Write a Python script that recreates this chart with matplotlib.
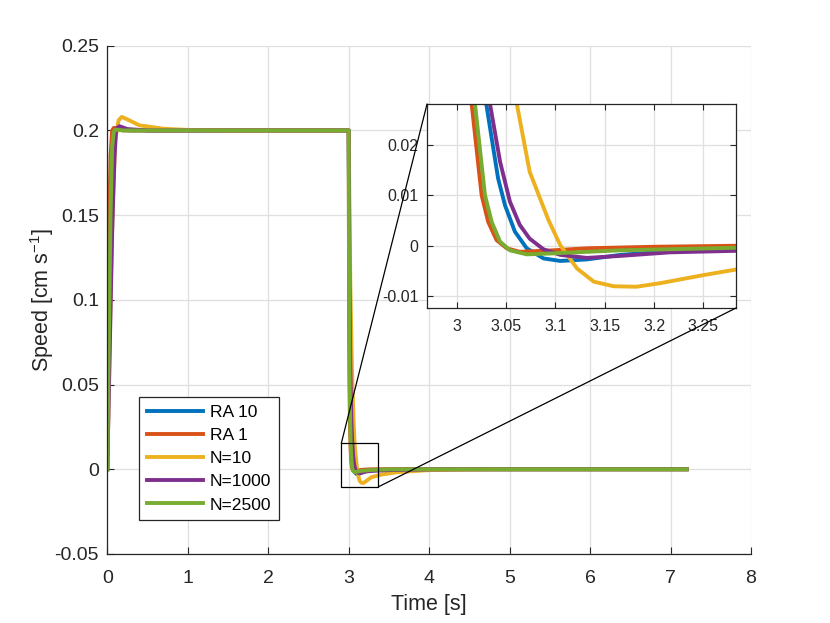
import numpy as np
import matplotlib
matplotlib.use("Agg")
import matplotlib.pyplot as plt
from matplotlib.patches import Rectangle, ConnectionPatch
from matplotlib.ticker import FuncFormatter

plt.rcParams['font.family'] = ['Liberation Sans', 'DejaVu Sans']
plt.rcParams['axes.unicode_minus'] = False
plt.rcParams['mathtext.fontset'] = 'custom'
plt.rcParams['mathtext.rm'] = 'Liberation Sans'
plt.rcParams['mathtext.it'] = 'Liberation Sans'
plt.rcParams['mathtext.default'] = 'regular'

labels = ['RA 10', 'RA 1', 'N=10', 'N=1000', 'N=2500']
colors = ['#0072BD', '#D95319', '#EDB120', '#7E2F8E', '#77AC30']

# speed traces [cm/s]
t_ra10 = [0, 0.02, 0.04, 0.06, 0.08, 0.1, 0.15, 0.3, 3.0, 3.01, 3.02, 3.03, 3.042, 3.049,
          3.059, 3.071, 3.088, 3.105, 3.132, 3.166, 3.216, 3.283, 3.4, 3.6, 4.0, 5.0, 7.2]
v_ra10 = [0, 0.1, 0.17, 0.195, 0.201, 0.2015, 0.2005, 0.2, 0.2, 0.095, 0.05, 0.028, 0.0133, 0.008,
          0.0028, -0.0005, -0.0025, -0.003, -0.0027, -0.0018, -0.0011, -0.0005, -0.0002, -0.0001, 0, 0, 0]

t_ra1 = [0, 0.02, 0.04, 0.06, 0.08, 0.12, 0.2, 3.0, 3.005, 3.01, 3.0152, 3.0253, 3.032, 3.0405,
         3.0507, 3.064, 3.098, 3.132, 3.2, 3.283, 4.0, 7.2]
v_ra1 = [0, 0.13, 0.185, 0.2, 0.2015, 0.2005, 0.2, 0.2, 0.09, 0.05, 0.028, 0.01, 0.0047, 0.0011,
         -0.0005, -0.0012, -0.0009, -0.0005, -0.0002, 0, 0, 0]

t_n10 = [0, 0.02, 0.04, 0.07, 0.1, 0.14, 0.18, 0.25, 0.4, 0.7, 1.0, 1.5, 3.0, 3.02, 3.04, 3.061,
         3.074, 3.093, 3.105, 3.122, 3.139, 3.159, 3.182, 3.206, 3.25, 3.283, 3.4, 3.6, 4.0, 4.5, 5.0, 7.2]
v_n10 = [0, 0.05, 0.1, 0.16, 0.195, 0.206, 0.208, 0.2065, 0.203, 0.201, 0.2003, 0.2, 0.2, 0.11, 0.06, 0.028,
         0.0146, 0.0051, 0.0001, -0.0045, -0.0071, -0.008, -0.0081, -0.0074, -0.0058, -0.0047, -0.0032,
         -0.0017, -0.0005, -0.0001, 0, 0]

t_n1000 = [0, 0.03, 0.06, 0.09, 0.11, 0.15, 0.25, 0.5, 3.0, 3.01, 3.02, 3.0338, 3.044, 3.054, 3.064,
           3.074, 3.088, 3.105, 3.132, 3.166, 3.216, 3.283, 3.5, 4.0, 4.5, 7.2]
v_n1000 = [0, 0.07, 0.14, 0.185, 0.201, 0.2025, 0.2008, 0.2, 0.2, 0.11, 0.06, 0.028, 0.0166, 0.0087, 0.0041,
           0.0014, -0.0007, -0.0018, -0.0024, -0.002, -0.0013, -0.001, -0.0005, -0.0001, 0, 0]

t_n2500 = [0, 0.02, 0.04, 0.06, 0.08, 0.1, 0.2, 3.0, 3.005, 3.01, 3.0186, 3.0287, 3.0355, 3.044,
           3.054, 3.071, 3.098, 3.166, 3.283, 3.5, 4.0, 7.2]
v_n2500 = [0, 0.08, 0.15, 0.19, 0.199, 0.2005, 0.2, 0.2, 0.1, 0.06, 0.028, 0.01, 0.0047, 0.0008,
           -0.0009, -0.0017, -0.0015, -0.0009, -0.0004, -0.0001, 0, 0]

series = [(t_ra10, v_ra10), (t_ra1, v_ra1), (t_n10, v_n10), (t_n1000, v_n1000), (t_n2500, v_n2500)]

axcol = '#262626'
gridcol = '#dfdfdf'


def fmt(x, pos):
    s = ('%.4f' % x).rstrip('0').rstrip('.')
    return '0' if s in ('-0', '') else s


fig = plt.figure(figsize=(8.3, 6.23), dpi=100)
ax = fig.add_axes([0.1293, 0.1108, 0.7755, 0.8158])

for (t, v), c, lab in zip(series, colors, labels):
    ax.plot(t, v, color=c, lw=2.8, label=lab)

ax.set_xlim(0, 8)
ax.set_ylim(-0.05, 0.25)
ax.set_xticks(np.arange(0, 9, 1))
ax.set_yticks(np.arange(-0.05, 0.26, 0.05))
ax.yaxis.set_major_formatter(FuncFormatter(fmt))
ax.grid(True, color=gridcol, lw=0.9)
ax.set_axisbelow(True)
for s in ['top', 'right']:
    ax.spines[s].set_visible(False)
for s in ['left', 'bottom']:
    ax.spines[s].set_color(axcol)
    ax.spines[s].set_linewidth(0.9)
ax.tick_params(direction='in', colors=axcol, labelsize=14, length=5, pad=6)
ax.tick_params(axis='x', pad=11.5)
ax.set_xlabel('Time [s]', fontsize=15.5, color=axcol, labelpad=5)
ax.set_ylabel('Speed [cm s$^{-1}$]', fontsize=15.5, color=axcol, labelpad=-1)

leg = ax.legend(loc='upper left', bbox_to_anchor=(0.1675, 0.3628), bbox_transform=fig.transFigure,
                fontsize=12.6, fancybox=False, framealpha=1, edgecolor=axcol, borderaxespad=0,
                handlelength=3.2, handletextpad=0.4, labelspacing=0.45, borderpad=0.45)
leg.get_frame().set_linewidth(0.9)

# zoom box on the main axes
rx0, rx1, ry0, ry1 = 2.908, 3.368, -0.0104, 0.0153
ax.add_patch(Rectangle((rx0, ry0), rx1 - rx0, ry1 - ry0, fill=False, ec='black', lw=0.9, zorder=5))

ins = fig.add_axes([0.5145, 0.5056, 0.3722, 0.3274])
for (t, v), c in zip(series, colors):
    ins.plot(t, v, color=c, lw=2.8)
ins.set_xlim(2.97, 3.283)
ins.set_ylim(-0.0123, 0.028)
ins.set_xticks([3, 3.05, 3.1, 3.15, 3.2, 3.25])
ins.set_yticks([-0.01, 0, 0.01, 0.02])
ins.xaxis.set_major_formatter(FuncFormatter(fmt))
ins.yaxis.set_major_formatter(FuncFormatter(fmt))
ins.grid(True, color=gridcol, lw=0.9)
ins.set_axisbelow(True)
for s in ins.spines.values():
    s.set_color(axcol)
    s.set_linewidth(0.9)
ins.tick_params(direction='in', colors=axcol, labelsize=11.5, length=4, top=True, right=True, pad=6)
ins.tick_params(axis='x', pad=8)

for xy_main, xy_ins in [((rx0, ry1), (0, 1)), ((rx1, ry0), (1, 0))]:
    con = ConnectionPatch(xyA=xy_main, coordsA=ax.transData, xyB=xy_ins, coordsB=ins.transAxes,
                          color='black', lw=0.9)
    fig.add_artist(con)

fig.savefig('out.png', dpi=100)
